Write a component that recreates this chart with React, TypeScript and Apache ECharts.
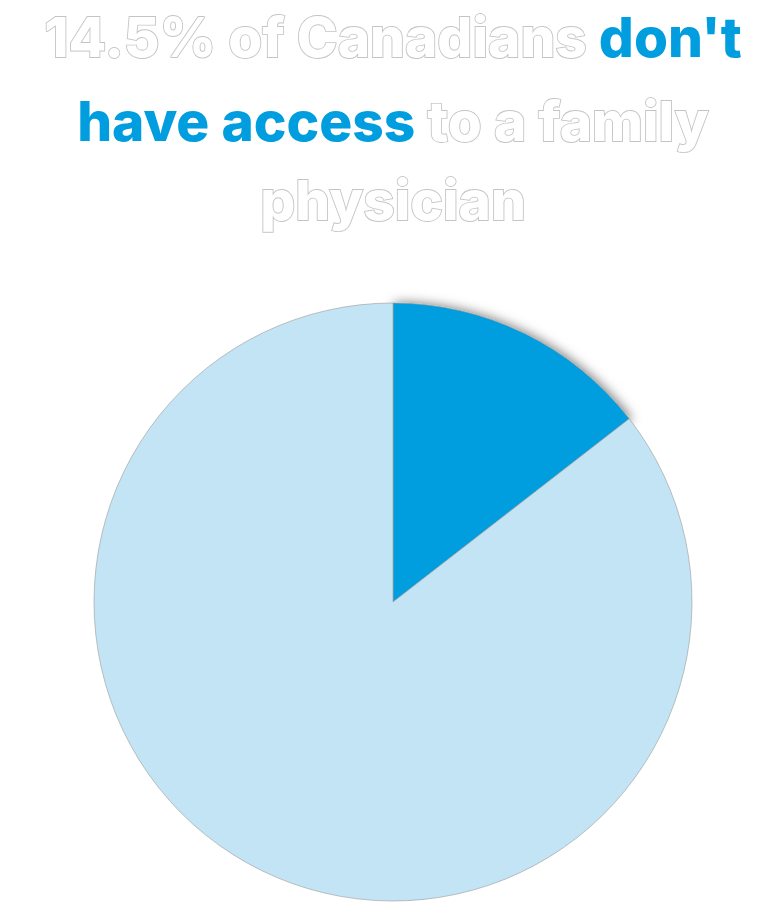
import React, { useEffect, useRef } from "react";
import * as echarts from "echarts";

const categories = ["Without access to a family physician", "With access to a family physician"];
const values = [14.5, 85.5];
const colors = ["#009ddf", "#c2e4f4"];
const titleLines = [
  "{g|14.5% of Canadians }{b|don't}",
  "{b|have access}{g| to a family}",
  "{g|physician}",
];
const titleTops = [7, 91, 170];

export default function App() {
  const ref = useRef<HTMLDivElement>(null);
  useEffect(() => {
    document.body.style.margin = "0";
    const chart = echarts.init(ref.current!, null, { renderer: "svg" });
    const rich = {
      g: {
        fontFamily: "Inter",
        fontWeight: 800,
        fontSize: 55,
        fill: "#ffffff",
        stroke: "#c4c4c4",
        lineWidth: 1.8,
        lineHeight: 60,
      },
      b: {
        fontFamily: "Inter",
        fontWeight: 800,
        fontSize: 55,
        fill: "#009ddf",
        lineHeight: 60,
      },
    };
    chart.setOption({
      animation: false,
      backgroundColor: "#ffffff",
      graphic: titleLines.map((text, i) => ({
        type: "text",
        x: 393,
        y: titleTops[i],
        style: {
          text,
          rich,
          align: "center",
          verticalAlign: "top",
          fontFamily: "Inter",
          fontWeight: 800,
          fontSize: 55,
          lineHeight: 60,
        },
      })),
      series: [
        {
          type: "pie",
          center: [393, 602],
          radius: 299,
          startAngle: 90,
          clockwise: true,
          label: { show: false },
          labelLine: { show: false },
          emphasis: { disabled: true },
          data: categories.map((name, i) => ({
            name,
            value: values[i],
            itemStyle: {
              color: colors[i],
              borderColor: "#9a9a9a",
              borderWidth: 0.6,
              ...(i === 0
                ? { shadowBlur: 12, shadowColor: "rgba(0,0,0,0.55)", shadowOffsetX: 2, shadowOffsetY: 0 }
                : {}),
            },
          })),
        },
      ],
    });
    return () => chart.dispose();
  }, []);
  return <div ref={ref} style={{ position: "absolute", left: 0, top: 0, width: 769, height: 917 }} />;
}
